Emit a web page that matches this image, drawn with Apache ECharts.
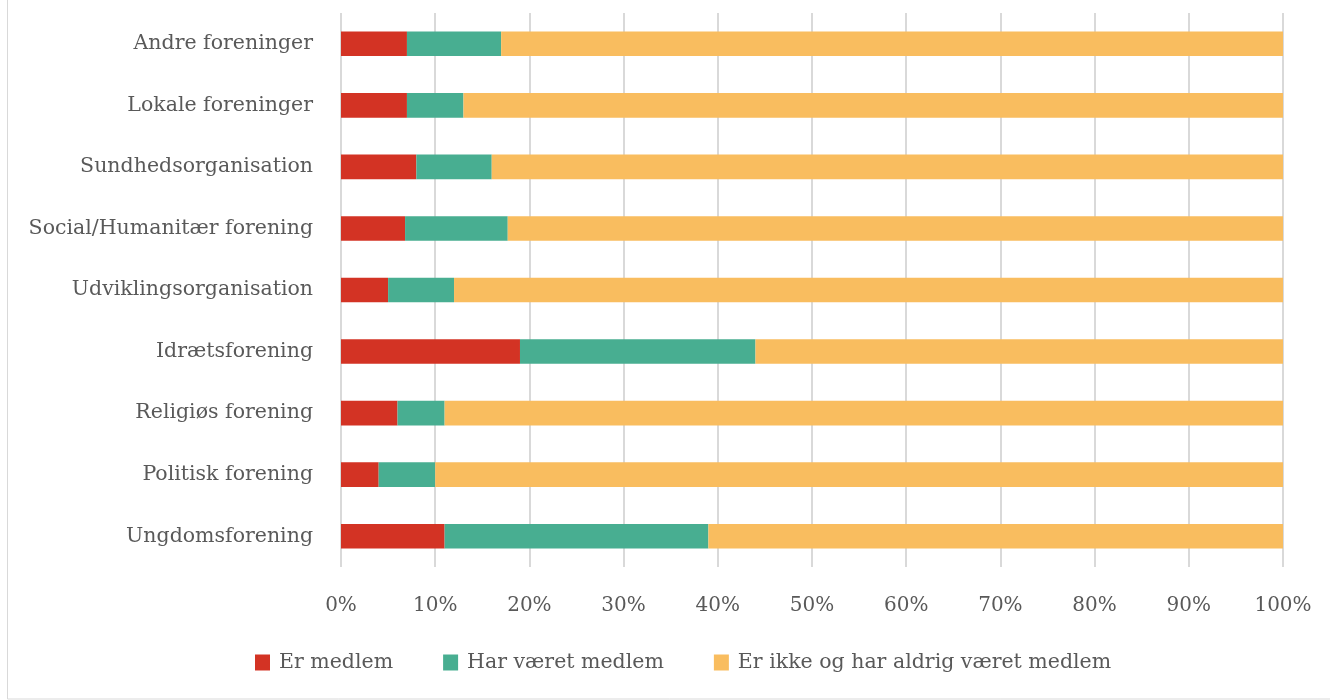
<!DOCTYPE html>
<html><head><meta charset="utf-8">
<script src="https://cdn.jsdelivr.net/npm/echarts@6/dist/echarts.min.js"></script>
<style>html,body{margin:0;padding:0;background:#fff}#c{width:1330px;height:700px}</style>
</head><body><div id="c"></div>
<script>
const categories = ["Ungdomsforening","Politisk forening","Religiøs forening","Idrætsforening","Udviklingsorganisation","Social/Humanitær forening","Sundhedsorganisation","Lokale foreninger","Andre foreninger"];
const erMedlem = [11, 4, 6, 19, 5, 6.8, 8, 7, 7];
const harVaeret = [28, 6, 5, 25, 7, 10.9, 8, 6, 10];
const aldrig = [61, 90, 89, 56, 88, 82.3, 84, 87, 83];
const seriesNames = ["Er medlem","Har været medlem","Er ikke og har aldrig været medlem"];
const xTicks = [0,10,20,30,40,50,60,70,80,90,100];
const colors = ["#d33324","#48ae91","#f9bd5f"];
const FONT = "DejaVu Serif";
const chart = echarts.init(document.getElementById('c'));
const vals = [erMedlem, harVaeret, aldrig];
chart.setOption({
  animation:false,
  textStyle:{fontFamily:FONT},
  graphic:[{type:'rect',shape:{x:7.5,y:-2,width:1340,height:701},style:{fill:'none',stroke:'#d9d9d9',lineWidth:1}}],
  grid:{left:341,right:47,top:13,bottom:133,containLabel:false},
  xAxis:{type:'value',min:xTicks[0],max:xTicks[xTicks.length-1],interval:10,
    axisLabel:{formatter:v=>v+'%',color:'#595959',fontSize:20,fontFamily:FONT,margin:29},
    axisLine:{show:false},axisTick:{show:false},
    splitLine:{lineStyle:{color:'#d9d9d9',width:2}}},
  yAxis:{type:'category',data:categories,
    axisLabel:{color:'#595959',fontSize:20.5,fontFamily:FONT,margin:28},
    axisLine:{show:false},axisTick:{show:false}},
  legend:{bottom:22,left:250,itemWidth:15,itemHeight:16,itemGap:50,
    icon:'rect',textStyle:{color:'#595959',fontSize:20.5,fontFamily:FONT,padding:[0,0,0,4]},data:seriesNames},
  series: seriesNames.map((n,i)=>({name:n,type:'bar',stack:'t',barCategoryGap:'60%',
    itemStyle:{color:colors[i]},data:vals[i]}))
});
</script></body></html>
